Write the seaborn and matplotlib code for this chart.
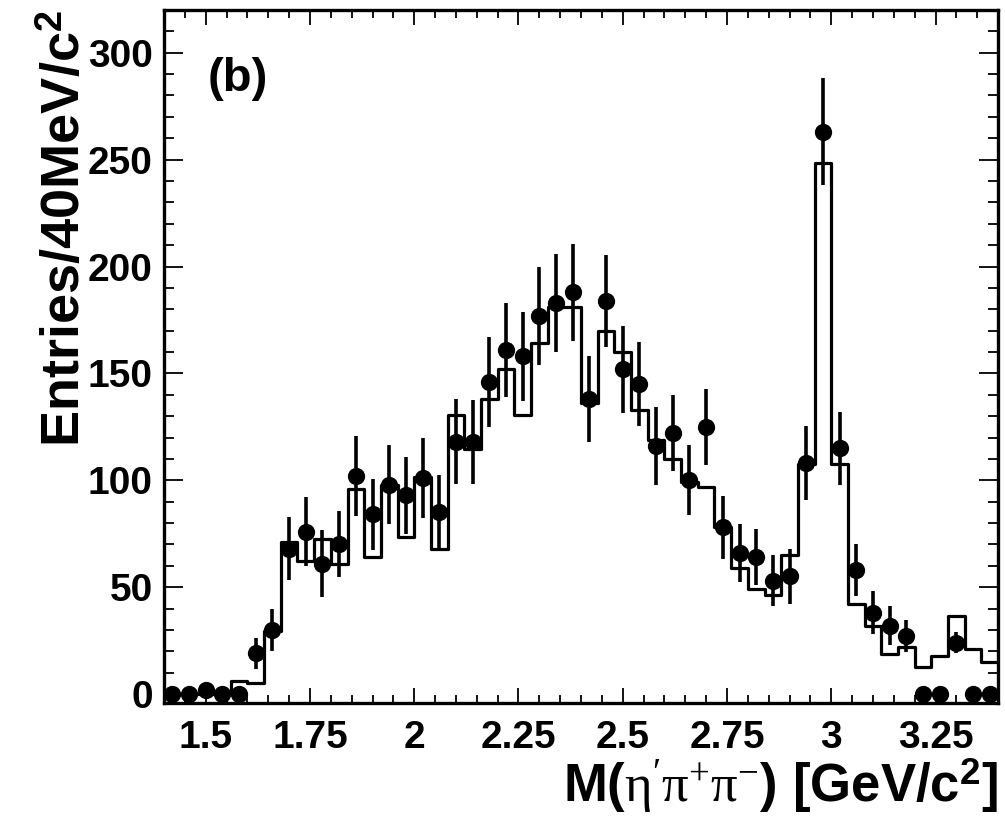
import numpy as np
import pandas as pd
import matplotlib
matplotlib.use("Agg")
import matplotlib.pyplot as plt
from matplotlib.ticker import MultipleLocator, FixedLocator
import seaborn as sns

# ---------------- data ----------------
bin_lo, bin_hi, n_bins = 1.40, 3.40, 50          # 40 MeV bins
data_counts = [0, 0, 2, 0, 0, 19, 30, 68, 76, 61,
               70, 102, 84, 98, 93, 101, 85, 118, 118, 146,
               161, 158, 177, 183, 188, 138, 184, 152, 145, 116,
               122, 100, 125, 78, 66, 64, 53, 55, 108, 263,
               115, 58, 38, 32, 27, 0, 0, 24, 0, 0]
data_errors = [0, 0, 3, 0, 0, 7.4, 9.9, 14.8, 16.1, 15.6,
               15.4, 18.7, 16.8, 18.3, 18.0, 18.7, 17.5, 19.9, 19.7, 21.0,
               21.9, 20.7, 23.0, 22.8, 22.7, 20.1, 21.5, 20.3, 19.7, 18.4,
               17.8, 16.4, 17.7, 14.8, 13.5, 13.0, 12.0, 12.7, 17.3, 25.0,
               17.0, 12.0, 10.0, 9.0, 7.4, 0, 0, 5, 0, 0]
mc_counts = [0, 0, 0, 0, 6, 5, 29.5, 71, 62, 72.7,
             61, 96, 64, 97.6, 73.3, 101.4, 67.7, 130.5, 114.4, 138,
             152, 130.5, 164.4, 181, 181, 136.3, 170, 160, 133, 119,
             110, 99, 97, 78, 59, 49, 46.4, 65, 107.4, 248.5,
             107.4, 42, 31.6, 18.8, 22.2, 12.5, 18, 36.7, 21, 15.2]
x_ticks = [1.5, 1.75, 2.0, 2.25, 2.5, 2.75, 3.0, 3.25]
x_tick_labels = ["1.5", "1.75", "2", "2.25", "2.5", "2.75", "3", "3.25"]
y_ticks = [0, 50, 100, 150, 200, 250, 300]

edges = np.linspace(bin_lo, bin_hi, n_bins + 1)
centers = 0.5 * (edges[:-1] + edges[1:])
df = pd.DataFrame({"mass": centers, "data": data_counts,
                   "err": data_errors, "mc": mc_counts})

# ---------------- style ----------------
sns.set_theme(style="ticks")
plt.rcParams["font.family"] = ["Liberation Sans", "DejaVu Sans"]
plt.rcParams["text.color"] = "black"
plt.rcParams["axes.labelcolor"] = "black"
plt.rcParams["xtick.color"] = "black"
plt.rcParams["ytick.color"] = "black"
plt.rcParams["mathtext.fontset"] = "custom"
plt.rcParams["mathtext.rm"] = "Liberation Serif"
plt.rcParams["mathtext.it"] = "Liberation Serif:italic"
plt.rcParams["mathtext.bf"] = "Liberation Sans:bold"

fig = plt.figure(figsize=(10.05, 8.26), dpi=100)
ax = fig.add_axes([0.1632, 0.1489, 0.8299, 0.839])

# MC histogram (step line)
sns.histplot(data=df, x="mass", weights="mc", bins=n_bins,
             binrange=(bin_lo, bin_hi), element="step",
             fill=False, color="black", linewidth=2.3, ax=ax)

# data points with error bars
ax.errorbar(df["mass"], df["data"], yerr=df["err"], fmt="none",
            ecolor="black", elinewidth=2.6, capsize=0, zorder=3)
sns.scatterplot(data=df, x="mass", y="data", color="black", s=155,
                edgecolor="black", linewidth=0, ax=ax, zorder=4)

ax.set_xlim(bin_lo, bin_hi)
ax.set_ylim(-4.2, 320)

ax.xaxis.set_major_locator(FixedLocator(x_ticks))
ax.set_xticklabels(x_tick_labels)
ax.xaxis.set_minor_locator(MultipleLocator(0.05))
ax.yaxis.set_major_locator(FixedLocator(y_ticks))
ax.yaxis.set_minor_locator(MultipleLocator(10))

ax.tick_params(axis="both", which="both", direction="in",
               top=True, right=True, width=1.3, color="black")
ax.tick_params(axis="x", which="major", length=11, labelsize=28, pad=12)
ax.tick_params(axis="x", which="minor", length=5.5)
ax.tick_params(axis="y", which="major", length=14, labelsize=28, pad=8)
ax.tick_params(axis="y", which="minor", length=7.5)
for lab in ax.get_xticklabels() + ax.get_yticklabels():
    lab.set_fontweight("bold")
    lab.set_color("black")

for sp in ax.spines.values():
    sp.set_linewidth(2.4)
    sp.set_color("black")

ax.set_xlabel(r"M($\mathrm{\eta'\pi^{+}\pi^{-}}$) [GeV/c$^{\mathbf{2}}$]",
              fontsize=38, fontweight="bold", loc="right", labelpad=1,
              color="black")
ax.set_ylabel(r"Entries/40MeV/c$^{\mathbf{2}}$", fontsize=39,
              fontweight="bold", loc="top", labelpad=-2, color="black")

ax.text(0.052, 0.90, "(b)", transform=ax.transAxes, fontsize=34,
        fontweight="bold", ha="left", va="center", color="black")

fig.savefig("out.png", dpi=100)
